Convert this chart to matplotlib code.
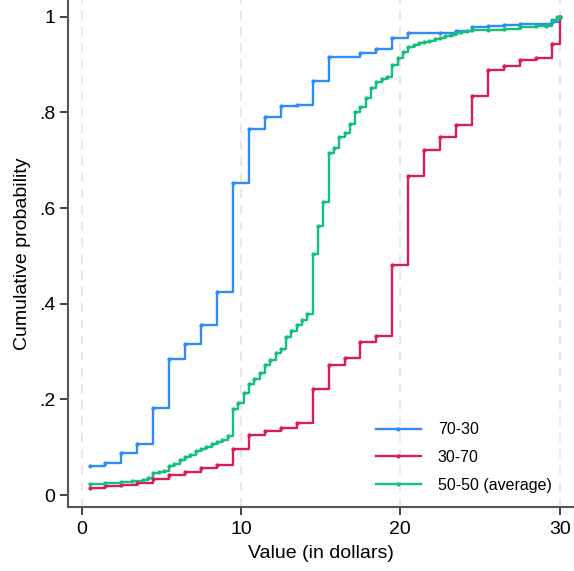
import numpy as np
import matplotlib
matplotlib.use("Agg")
from matplotlib import pyplot as plt

# step points (value in dollars, cumulative probability)
blue_x = [0.5, 1.5, 2.5, 3.5, 4.5, 5.5, 6.5, 7.5, 8.5, 9.5, 10.5, 11.5, 12.5, 13.5,
          14.5, 15.5, 17.5, 18.5, 19.5, 20.5, 22.5, 23.5, 24.5, 25.5, 26.5, 27.5,
          29.5, 30]
blue_y = [0.061, 0.068, 0.088, 0.107, 0.183, 0.284, 0.315, 0.355, 0.424, 0.652,
          0.765, 0.790, 0.813, 0.815, 0.866, 0.915, 0.925, 0.932, 0.956, 0.965,
          0.967, 0.971, 0.978, 0.981, 0.982, 0.984, 0.990, 1.0]

red_x = [0.5, 1.5, 2.5, 3.5, 4.5, 5.5, 6.5, 7.5, 8.5, 9.5, 10.5, 11.5, 12.5, 13.5,
         14.5, 15.5, 16.5, 17.5, 18.5, 19.5, 20.5, 21.5, 22.5, 23.5, 24.5, 25.5,
         26.5, 27.5, 28.5, 29.5, 30]
red_y = [0.015, 0.019, 0.022, 0.025, 0.034, 0.043, 0.049, 0.056, 0.063, 0.097,
         0.125, 0.134, 0.141, 0.150, 0.222, 0.271, 0.287, 0.319, 0.332, 0.481,
         0.667, 0.721, 0.749, 0.774, 0.834, 0.888, 0.898, 0.909, 0.913, 0.942, 1.0]

green_x = [0.5, 1.5, 2.5, 3.17, 3.83, 4.17, 4.5, 4.83, 5.17, 5.5, 5.83, 6.17, 6.5,
           6.83, 7.17, 7.5, 7.83, 8.17, 8.5, 8.83, 9.17, 9.5, 9.83, 10.17, 10.5,
           10.83, 11.17, 11.5, 11.83, 12.17, 12.5, 12.83, 13.17, 13.5, 13.83,
           14.17, 14.5, 14.83, 15.17, 15.5, 15.83, 16.17, 16.5, 16.83, 17.17,
           17.5, 17.83, 18.17, 18.5, 18.83, 19.17, 19.5, 19.83, 20.17, 20.5,
           20.83, 21.17, 21.5, 21.83, 22.17, 22.5, 22.83, 23.17, 23.5, 23.83,
           24.17, 24.5, 25.5, 26.5, 27.5, 28.5, 29.17, 29.5, 29.83, 30]
green_y = [0.024, 0.026, 0.028, 0.029, 0.032, 0.036, 0.046, 0.049, 0.051, 0.060,
           0.065, 0.073, 0.079, 0.083, 0.093, 0.097, 0.101, 0.107, 0.111, 0.116,
           0.123, 0.181, 0.193, 0.214, 0.233, 0.242, 0.256, 0.271, 0.282, 0.298,
           0.305, 0.331, 0.344, 0.355, 0.367, 0.378, 0.505, 0.562, 0.613, 0.715,
           0.726, 0.748, 0.757, 0.776, 0.801, 0.812, 0.831, 0.852, 0.863, 0.870,
           0.875, 0.899, 0.913, 0.927, 0.936, 0.941, 0.945, 0.947, 0.950, 0.953,
           0.956, 0.960, 0.962, 0.965, 0.968, 0.970, 0.972, 0.973, 0.975, 0.978,
           0.980, 0.981, 0.993, 1.0, 1.0]

labels = ["70-30", "30-70", "50-50 (average)"]
colors = ["#2f8cf5", "#d81d58", "#14c07e"]

x_ticks = [0, 10, 20, 30]
y_ticks = [0, 0.2, 0.4, 0.6, 0.8, 1.0]
y_ticklabels = ["0", ".2", ".4", ".6", ".8", "1"]

plt.rcParams['font.family'] = ['Liberation Sans', 'DejaVu Sans']

fig = plt.figure(figsize=(5.74, 5.71), dpi=100)
ax = fig.add_axes([0.1185, 0.112, 0.8815, 0.888])

for xv in x_ticks:
    ax.axvline(xv, color="#e6e6e6", lw=1.3, dashes=(5, 4), zorder=0)

series = [(blue_x, blue_y), (red_x, red_y), (green_x, green_y)]
for (xs, ys), lab, col in zip(series, labels, colors):
    ax.step(xs, ys, where="post", color=col, lw=1.7, zorder=2)
    ax.plot(xs, ys, ls="none", marker="o", ms=2, color=col, zorder=3)
    ax.plot([], [], color=col, lw=1.7, marker="o", ms=2, label=lab)

ax.set_xlim(-0.85, 30.9)
ax.set_ylim(-0.025, 1.035)
ax.set_xticks(x_ticks)
ax.set_yticks(y_ticks)
ax.set_yticklabels(y_ticklabels)
ax.tick_params(axis="both", labelsize=14, length=6, width=1.2, color="#222222")
ax.tick_params(axis="y", pad=3)
ax.tick_params(axis="x", pad=4)

for s in ["top", "right"]:
    ax.spines[s].set_visible(False)
for s in ["left", "bottom"]:
    ax.spines[s].set_color("#555555")
    ax.spines[s].set_linewidth(1.5)

ax.set_xlabel("Value (in dollars)", fontsize=14, labelpad=5)
ax.set_ylabel("Cumulative probability", fontsize=14, labelpad=6)

leg = ax.legend(loc="lower right", bbox_to_anchor=(0.984, 0.0), frameon=False,
                fontsize=11.5, handlelength=2.8, labelspacing=0.8,
                handletextpad=1.06, numpoints=1)

fig.savefig("out.png", dpi=100)
